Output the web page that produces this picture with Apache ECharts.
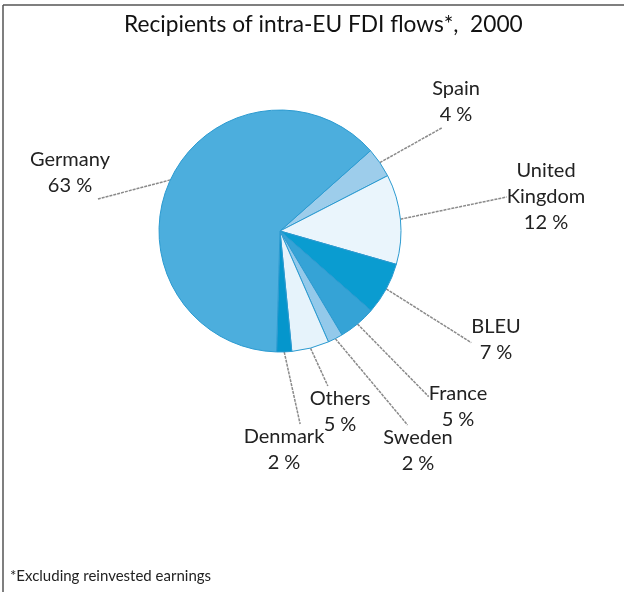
<!DOCTYPE html>
<html><head><meta charset="utf-8">
<script src="https://cdn.jsdelivr.net/npm/echarts@6/dist/echarts.min.js"></script>
<style>html,body{margin:0;padding:0;background:#fff}#c{width:624px;height:592px}</style>
</head><body><div id="c"></div>
<script>
const categories = ['Spain', 'United\nKingdom', 'BLEU', 'France', 'Sweden', 'Others', 'Denmark', 'Germany'];
const shares = [4, 12, 7, 5, 2, 5, 2, 63];
const sliceColors = ['#9dcdeb', '#eaf5fc', '#0a9cd0', '#35a3d6', '#93c9ea', '#e6f3fb', '#0596cc', '#4caedd'];
// label centres and where on the label box the leader line attaches (fractions of the box)
const labelPos = [[456, 102], [546, 197], [496, 340], [458, 407], [418, 451], [340, 412], [284, 450], [70, 173]];
const lineAnchor = [[0.2, 1], [0, 0.5], [0, 0.55], [0, 0.3], [0.35, 0], [0.3, 0], [0.7, 0], [0.85, 1]];

const chart = echarts.init(document.getElementById('c'), null, {renderer: 'canvas'});
const FONT = 'Lato, "Noto Sans", sans-serif';
chart.setOption({
  animation: false,
  title: {
    text: 'Recipients of intra-EU FDI flows*,  2000',
    left: 119, top: 8,
    textStyle: {fontFamily: FONT, fontSize: 22.7, fontWeight: 'normal', color: '#111'}
  },
  graphic: [
    {type: 'line', shape: {x1: 3, y1: 5, x2: 624, y2: 5}, style: {stroke: '#555', lineWidth: 1.5}},
    {type: 'line', shape: {x1: 3, y1: 5, x2: 3, y2: 592}, style: {stroke: '#555', lineWidth: 1.5}},
    {type: 'text', left: 10, top: 569, style: {text: '*Excluding reinvested earnings', fontFamily: FONT, fontSize: 15, fill: '#222'}}
  ],
  series: [{
    type: 'pie',
    center: [280, 231],
    radius: [0, 121],
    startAngle: 41.6,
    clockwise: true,
    data: categories.map((n, i) => ({name: n, value: shares[i], itemStyle: {color: sliceColors[i]}})),
    itemStyle: {borderColor: '#2b9ad0', borderWidth: 1},
    label: {
      show: true, formatter: '{b}\n{c} %',
      fontFamily: FONT, fontSize: 20, lineHeight: 26, color: '#222', align: 'center'
    },
    labelLine: {show: true, length: 20, length2: 0, lineStyle: {color: '#8a8a8a', width: 1.5, type: [3, 1]}},
    labelLayout: function (p) {
      const pos = labelPos[p.dataIndex];
      const a = lineAnchor[p.dataIndex];
      const w = p.labelRect.width, h = p.labelRect.height;
      const out = {x: pos[0], y: pos[1], align: 'center', verticalAlign: 'middle'};
      if (p.labelLinePoints && p.labelLinePoints[0]) {
        const s = p.labelLinePoints[0];
        const ex = pos[0] - w / 2 + a[0] * w;
        const ey = pos[1] - h / 2 + a[1] * h;
        out.labelLinePoints = [[s[0], s[1]], [(s[0] + ex) / 2, (s[1] + ey) / 2], [ex, ey]];
      }
      return out;
    },
    emphasis: {disabled: true}
  }]
});
</script></body></html>
